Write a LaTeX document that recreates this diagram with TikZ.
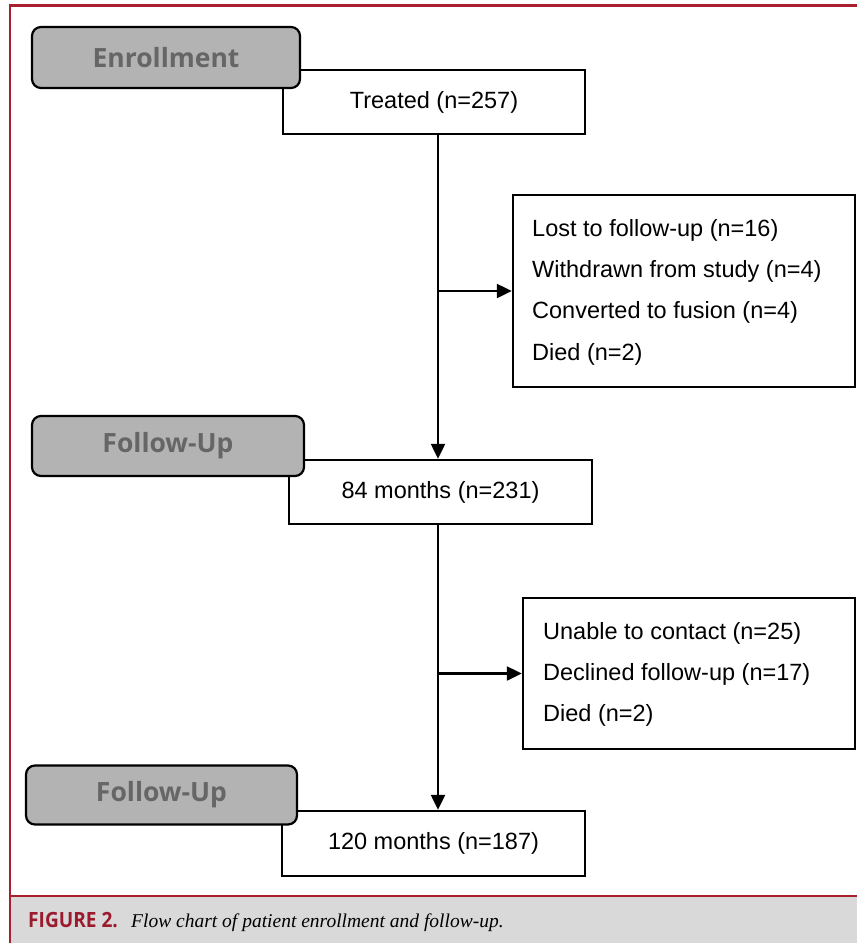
\documentclass[tikz,border=0pt]{standalone}
\usepackage{fontspec}
\setmainfont{Liberation Sans}
\newfontfamily\labfont{Open Sans}
\newfontfamily\capserif{Liberation Serif}
\usetikzlibrary{arrows.meta}
\definecolor{framered}{HTML}{A8202F}
\definecolor{capred}{HTML}{9B1B2E}
\definecolor{capbg}{HTML}{D9D9D9}
\definecolor{labgray}{HTML}{B3B3B3}
\definecolor{labtext}{HTML}{666666}
\tikzset{
  whitebox/.style={draw=black, line width=2.5pt, fill=white, inner sep=0pt, font=\fontsize{23.5}{28}\selectfont},
  graylab/.style={draw=black, line width=2.2pt, fill=labgray, rounded corners=9pt, inner sep=0pt,
     font=\labfont\bfseries\fontsize{26.5}{30}\selectfont, text=labtext},
  listtext/.style={align=left, anchor=west, inner sep=0pt, font=\fontsize{23.5}{41.3}\selectfont},
  arr/.style={line width=2.5pt, -{Triangle[length=15pt,width=14pt]}},
}
\begin{document}
\begin{tikzpicture}[x=1pt,y=-1pt]
\useasboundingbox (0,0) rectangle (857,943);
% caption band
\fill[capbg] (10,896) rectangle (857,943);
\draw[framered, line width=2.2pt] (10,943) -- (10,5.5) -- (857,5.5);
\draw[framered, line width=2.2pt] (10,896) -- (857,896);
\node[anchor=base west, inner sep=0pt, text=capred, font=\labfont\bfseries\fontsize{21}{24}\selectfont] (figlab) at (28,927) {\scalebox{0.91}[1]{FIGURE 2.}};
\node[anchor=base west, inner sep=0pt, font=\capserif\itshape\fontsize{19.5}{22}\selectfont] (captxt) at (131,927) {Flow chart of patient enrollment and follow-up.};

% white boxes
\node[whitebox, minimum width=302pt, minimum height=64pt] (treated) at (434,102) {Treated (n=257)};
\node[whitebox, minimum width=342pt, minimum height=192pt] (ex1) at (684,291) {};
\node[listtext] (ex1t) at (532,292) {Lost to follow-up (n=16)\\Withdrawn from study (n=4)\\Converted to fusion (n=4)\\Died (n=2)};
\node[whitebox, minimum width=303pt, minimum height=64pt] (m84) at (440.5,492) {84 months (n=231)};
\node[whitebox, minimum width=332pt, minimum height=151pt] (ex2) at (689,673.5) {};
\node[listtext] (ex2t) at (543,674.5) {Unable to contact (n=25)\\Declined follow-up (n=17)\\Died (n=2)};
\node[whitebox, minimum width=303pt, minimum height=65pt] (m120) at (433.5,843.5) {120 months (n=187)};

% connectors
\coordinate (sp) at (438,0);
\draw[arr] (treated.south -| sp) -- (m84.north -| sp);
\draw[arr] (sp |- ex1.west) -- (ex1.west);
\draw[arr] (m84.south -| sp) -- (m120.north -| sp);
\draw[arr] (sp |- ex2.west) -- (ex2.west);

% gray labels
\node[graylab, minimum width=268pt, minimum height=61pt] (enr) at (166,57.5) {Enrollment};
\node[graylab, minimum width=272pt, minimum height=60pt] (fu1) at (168,446) {Follow-Up};
\node[graylab, minimum width=271pt, minimum height=59pt] (fu2) at (161.5,795) {Follow-Up};
\end{tikzpicture}
\end{document}
